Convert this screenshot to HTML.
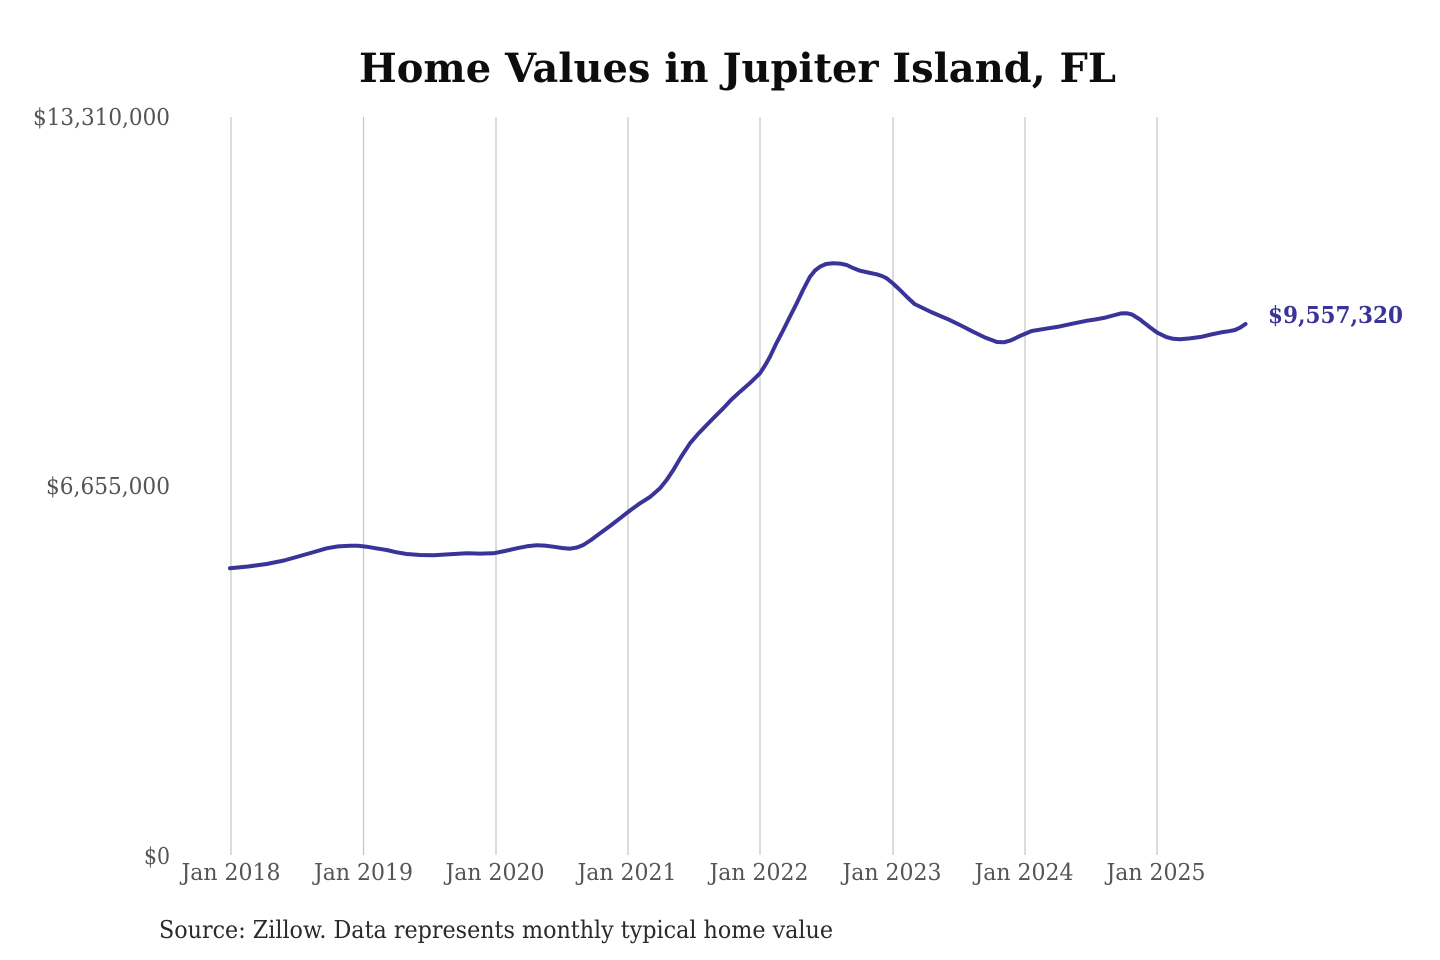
<!DOCTYPE html>
<html>
<head>
<meta charset="utf-8">
<style>
  html, body { margin: 0; padding: 0; background: #ffffff; }
  svg { display: block; }
  text { font-family: "DejaVu Serif", "Liberation Serif", serif; }
</style>
</head>
<body>
<svg width="1440" height="960" viewBox="0 0 1440 960" xmlns="http://www.w3.org/2000/svg">
  <rect x="0" y="0" width="1440" height="960" fill="#ffffff"/>

  <!-- Title -->
  <text x="359" y="82" font-size="40" font-weight="bold" fill="#0d0d0d" textLength="757" lengthAdjust="spacingAndGlyphs">Home Values in Jupiter Island, FL</text>

  <!-- Vertical gridlines -->
  <g stroke="#c4c4c4" stroke-width="1.2">
    <line x1="231" y1="117" x2="231" y2="855"/>
    <line x1="363.5" y1="117" x2="363.5" y2="855"/>
    <line x1="496" y1="117" x2="496" y2="855"/>
    <line x1="628" y1="117" x2="628" y2="855"/>
    <line x1="760" y1="117" x2="760" y2="855"/>
    <line x1="893" y1="117" x2="893" y2="855"/>
    <line x1="1025" y1="117" x2="1025" y2="855"/>
    <line x1="1157" y1="117" x2="1157" y2="855"/>
  </g>

  <!-- Y labels -->
  <g font-size="23" fill="#555555" text-anchor="end">
    <text x="170" y="125" textLength="137" lengthAdjust="spacingAndGlyphs">$13,310,000</text>
    <text x="170" y="494" textLength="124" lengthAdjust="spacingAndGlyphs">$6,655,000</text>
    <text x="170" y="864" textLength="26" lengthAdjust="spacingAndGlyphs">$0</text>
  </g>

  <!-- X labels -->
  <g font-size="23.5" fill="#555555" text-anchor="middle">
    <text x="231" y="880" textLength="99" lengthAdjust="spacingAndGlyphs">Jan 2018</text>
    <text x="363.5" y="880" textLength="99" lengthAdjust="spacingAndGlyphs">Jan 2019</text>
    <text x="495" y="880" textLength="99" lengthAdjust="spacingAndGlyphs">Jan 2020</text>
    <text x="627" y="880" textLength="99" lengthAdjust="spacingAndGlyphs">Jan 2021</text>
    <text x="759" y="880" textLength="99" lengthAdjust="spacingAndGlyphs">Jan 2022</text>
    <text x="892" y="880" textLength="99" lengthAdjust="spacingAndGlyphs">Jan 2023</text>
    <text x="1024" y="880" textLength="99" lengthAdjust="spacingAndGlyphs">Jan 2024</text>
    <text x="1156" y="880" textLength="99" lengthAdjust="spacingAndGlyphs">Jan 2025</text>
  </g>

  <!-- Data line -->
  <polyline fill="none" stroke="#3a3398" stroke-width="4" stroke-linejoin="round" stroke-linecap="round"
    points="230,568.3 248,566.5 266.7,564 284,560.5 300,556 314,552 326.7,548.3 338,546.4 350,545.7 358,545.8 366.7,546.7 376,548.3 386.7,550 396,552.2 406.7,554 420,555 433.3,555.3 450,554.3 466.7,553.3 480,553.6 493.3,553.3 505,551 516.7,548.3 527,546.3 536.7,545.3 545,545.6 553.3,546.7 562,548 570,548.7 577,547.5 583.3,545 591,540 600,533.3 610,526 620,518.3 630,510.5 640,503.3 650,497 660,488.3 667,479.5 673.3,470 681,457 690,443.3 698,434 706.7,425 715,416.5 723.3,408.3 731,400 740,391.7 750,383 760,373.3 765,365.5 770,356.7 776,344 783.3,330 790,316.5 796.7,303.3 803,290 810,276.7 815,270.5 820,266.7 826,264 833.3,263.3 840,263.6 846.7,265 853,268 860,270.7 868,272.5 876.7,274.3 882,276 886.7,278.3 893,283.5 900,290 907,297 914.5,304 931,312 949,319.7 961,325.5 973,331.7 985,337.5 997,342 1004,342.3 1011,340.3 1021,335.5 1031.7,331 1045,328.8 1059,326.6 1073,323.6 1087,320.7 1095,319.5 1104,317.9 1113,315.5 1121,313.4 1127,313.3 1132,314.5 1140,319.5 1149,326.6 1157,332.5 1166,336.9 1173,338.8 1180,339.3 1190,338.4 1201,336.9 1211,334.5 1221,332.4 1229,331.2 1235,330 1240,327.7 1245.5,324"/>

  <!-- End label -->
  <text x="1268" y="323" font-size="23" font-weight="bold" fill="#3a3398" textLength="135" lengthAdjust="spacingAndGlyphs">$9,557,320</text>

  <!-- Source -->
  <text x="159" y="938" font-size="24" fill="#2a2a2a" textLength="674" lengthAdjust="spacingAndGlyphs">Source: Zillow. Data represents monthly typical home value</text>
</svg>
</body>
</html>
